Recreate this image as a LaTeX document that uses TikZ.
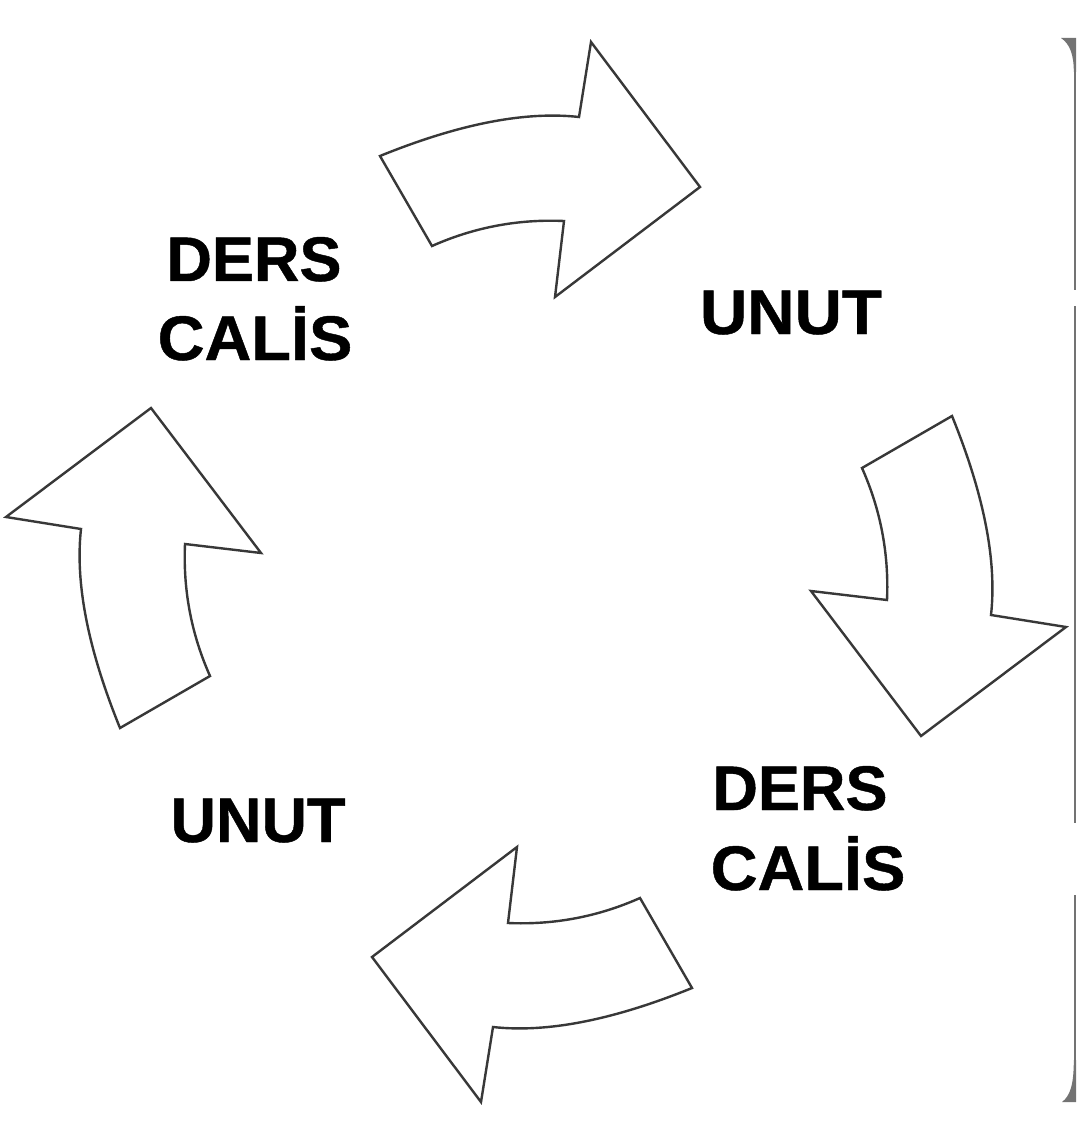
\documentclass[tikz,border=0pt]{standalone}
\usepackage{fontspec}
\setmainfont[BoldFeatures={FakeBold=0.7}]{Liberation Sans}
\begin{document}
\begin{tikzpicture}[x=1pt,y=-1pt,
  arrowline/.style={draw=black!78,line width=2.4pt,line join=miter,fill=white},
  word/.style={anchor=base,inner sep=0pt,font=\fontsize{63}{63}\selectfont\bfseries}]
\useasboundingbox[fill=white] (0,0) rectangle (1076,1139);
\coordinate (C) at (536,572);
\newcommand\cyclearrowpath{(380,156) .. controls (458.7,124) and (525,111) .. (579,117) -- (591,42) -- (700,187) -- (555,297) -- (564,221) .. controls (518,219) and (474,227.3) .. (432,246) -- cycle}
\foreach \ang in {0,-90,180,90}{
  \begin{scope}[rotate around={\ang:(C)}]
    \path[arrowline] \cyclearrowpath;
  \end{scope}
}
% labels
\node[word] (dc1a) at (254,281) {DERS};
\node[word,xscale=1.03] (dc1b) at (255,360) {CALİS};
\node[word,xscale=1.04] (un1) at (791,334) {UNUT};
\node[word] (dc2a) at (800,810) {DERS};
\node[word,xscale=1.03] (dc2b) at (808,890) {CALİS};
\node[word] (un2) at (258,842) {UNUT};
% right frame edge
\fill[black!55] (1061,38) -- (1076,38) -- (1076,72) -- (1073.8,72) .. controls (1073.8,55) and (1070,44) .. (1061,38) -- cycle;
\fill[black!55] (1076,1060) -- (1076,1102) -- (1062,1102) .. controls (1070,1096) and (1073.8,1085) .. (1073.8,1060) -- cycle;
\draw[black!55,line width=2.4pt] (1074.9,70) -- (1074.9,290) (1074.9,306) -- (1074.9,823) (1074.9,895) -- (1074.9,1062);
\end{tikzpicture}
\end{document}
